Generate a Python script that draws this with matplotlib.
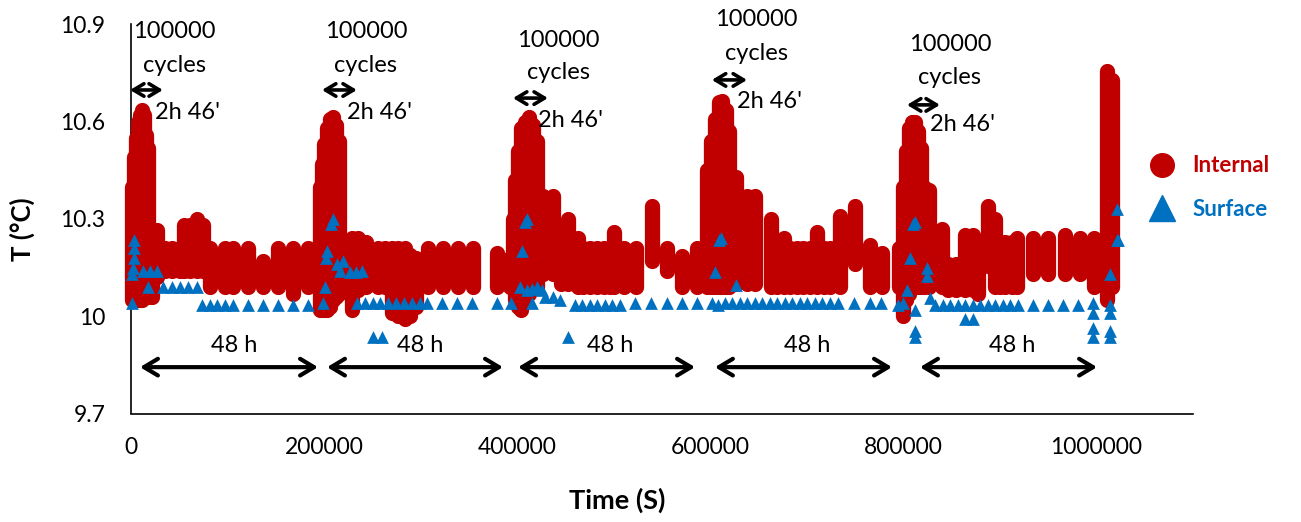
import matplotlib
matplotlib.use("Agg")
import matplotlib.pyplot as plt
from matplotlib.lines import Line2D

plt.rcParams['font.family'] = ['Lato', 'DejaVu Sans']

# ---------------- data ----------------
# Internal: each vertical band is a stack of readings at (nearly) the same time;
# stored as time (s), lowest and highest temperature (°C) of the stack.
internal_t = [
    1000, 3100, 5200, 7300, 9300, 11400, 13500, 15500, 17600,
    21800, 26900, 35200, 42500, 50800, 54900, 61100, 68400, 74600, 81900,
    97400, 105700, 121200, 136800, 152300, 167900, 183400,
    195900, 197900, 200000, 203100, 206200, 209300, 212400, 215600,
    229000, 235200, 243500, 256000, 263200, 270500, 276700, 283900, 289100, 295300,
    307800, 323300, 338900, 354400, 379300, 392800,
    395900, 397900, 401000, 404200, 408300, 412400, 416600, 420700,
    427000, 437300, 445600, 452900, 463200, 468400, 475700, 482900, 490200, 496400,
    500500, 510900, 523300, 539900, 555500, 571000, 586500,
    596900, 601100, 605200, 609300, 612500, 616600, 619700, 622800,
    627000, 638400, 646700, 663200, 669500, 676700, 682900, 690200, 696400, 703600,
    710900, 718200, 724400, 734700, 750300, 765800, 778300,
    795900, 800000, 803100, 806200, 809400, 812500, 815600, 818700, 821800,
    827000, 840400, 846700, 854900, 864300, 872600, 877700, 888100, 895400, 900500,
    905700, 913000, 918200, 934700, 950300, 967900, 983400, 998000,
    1011400, 1016600, 1027000,
]
internal_lo = [
    10.05, 10.05, 10.05, 10.05, 10.05, 10.05, 10.06, 10.06, 10.06,
    10.06, 10.12, 10.14, 10.14, 10.14, 10.14, 10.14, 10.14, 10.14, 10.09,
    10.09, 10.09, 10.09, 10.09, 10.09, 10.07, 10.09,
    10.02, 10.02, 10.02, 10.02, 10.03, 10.05, 10.06, 10.07,
    10.02, 10.08, 10.09, 10.09, 10.09, 10.01, 10.00, 9.99, 10.00, 10.03,
    10.09, 10.09, 10.09, 10.09, 10.09, 10.09,
    10.09, 10.05, 10.03, 10.02, 10.05, 10.07, 10.09, 10.09,
    10.13, 10.13, 10.10, 10.10, 10.09, 10.09, 10.09, 10.09, 10.09, 10.09,
    10.09, 10.09, 10.09, 10.17, 10.14, 10.09, 10.09,
    10.09, 10.09, 10.09, 10.09, 10.09, 10.09, 10.09, 10.10,
    10.10, 10.10, 10.10, 10.09, 10.09, 10.09, 10.09, 10.09, 10.09, 10.09,
    10.09, 10.09, 10.09, 10.09, 10.16, 10.09, 10.09,
    10.09, 10.00, 10.05, 10.07, 10.09, 10.09, 10.09, 10.09, 10.09,
    10.09, 10.09, 10.08, 10.08, 10.08, 10.08, 10.07, 10.155, 10.09, 10.09,
    10.09, 10.09, 10.09, 10.13, 10.13, 10.13, 10.13, 10.09,
    10.05, 10.09, 10.53,
]
internal_hi = [
    10.40, 10.49, 10.55, 10.60, 10.62, 10.635, 10.62, 10.56, 10.52,
    10.20, 10.265, 10.21, 10.21, 10.21, 10.28, 10.28, 10.30, 10.28, 10.21,
    10.21, 10.21, 10.21, 10.17, 10.21, 10.21, 10.21,
    10.40, 10.47, 10.53, 10.58, 10.61, 10.615, 10.59, 10.54,
    10.24, 10.24, 10.23, 10.21, 10.21, 10.21, 10.21, 10.21, 10.19, 10.18,
    10.21, 10.21, 10.21, 10.21, 10.195, 10.18,
    10.30, 10.42, 10.51, 10.58, 10.60, 10.615, 10.59, 10.54,
    10.37, 10.37, 10.25, 10.30, 10.24, 10.21, 10.21, 10.21, 10.21, 10.21,
    10.26, 10.21, 10.21, 10.34, 10.21, 10.185, 10.21,
    10.45, 10.54, 10.61, 10.66, 10.665, 10.635, 10.57, 10.43,
    10.43, 10.37, 10.37, 10.30, 10.21, 10.24, 10.21, 10.21, 10.21, 10.21,
    10.26, 10.21, 10.21, 10.31, 10.34, 10.22, 10.195,
    10.21, 10.40, 10.51, 10.58, 10.60, 10.60, 10.57, 10.52, 10.40,
    10.39, 10.27, 10.16, 10.16, 10.25, 10.25, 10.22, 10.34, 10.30, 10.23,
    10.23, 10.23, 10.24, 10.24, 10.24, 10.25, 10.24, 10.24,
    10.756, 10.73, 10.53,
]

# Surface: individual readings (time s, temperature °C)
surface_t = [
    1000, 1000, 2100, 2600, 3100, 3600, 12000, 17400, 19700, 26900,
    33200, 42500, 50800, 59100, 68400,
    73600, 81900, 89100, 97400, 105700, 121200, 136800, 152300, 167900, 183400,
    198900, 201100, 202200, 202800, 207700, 209300,
    213500, 219700, 216400, 226900, 233200, 239400,
    234100, 242500, 250800, 258100, 266300, 274600, 282900, 291200, 299500, 306700,
    250800, 260200,
    322200, 337800, 353400, 379300, 393700,
    403100, 405200, 408300, 410500, 415600, 410300, 415600, 420700, 425900,
    429000, 437200, 444600, 452900,
    460100, 467300, 475600, 482900, 491200, 498500, 506800,
    522300, 538900, 555400, 570900, 586600,
    601900, 608100, 605100, 609300, 611400, 626900,
    615600, 622900, 631200, 638400, 646700, 653900, 662200, 669400, 677700,
    684900, 693200, 700500, 708800, 716000, 724400,
    732600, 749200, 765800, 777200,
    794800, 800000, 804100, 807200, 810300, 812400, 812400, 812400, 812400,
    824900, 824900, 828000,
    833200, 841500, 848700, 857000, 864200, 872500, 879700, 888000, 895400,
    903700, 910900, 919100, 864200, 872500,
    934700, 950200, 965800, 981300,
    996900, 996900, 996900, 996900,
    1014500, 1014500, 1014500, 1014500, 1014500, 1021700, 1023100, 1021700,
]
surface_T = [
    10.04, 10.13, 10.15, 10.18, 10.21, 10.235, 10.14, 10.09, 10.14, 10.14,
    10.09, 10.09, 10.09, 10.09, 10.09,
    10.035, 10.035, 10.035, 10.035, 10.035, 10.035, 10.035, 10.035, 10.035, 10.035,
    10.04, 10.09, 10.18, 10.20, 10.285, 10.30,
    10.16, 10.17, 10.14, 10.135, 10.135, 10.14,
    10.04, 10.04, 10.04, 10.04, 10.04, 10.04, 10.04, 10.04, 10.04, 10.04,
    9.935, 9.935,
    10.04, 10.04, 10.04, 10.04, 10.04,
    10.09, 10.20, 10.29, 10.30, 10.04, 10.08, 10.085, 10.09, 10.08,
    10.06, 10.06, 10.05, 9.935,
    10.035, 10.035, 10.035, 10.035, 10.035, 10.035, 10.035,
    10.04, 10.04, 10.04, 10.04, 10.04,
    10.04, 10.035, 10.135, 10.235, 10.24, 10.095,
    10.04, 10.04, 10.04, 10.04, 10.04, 10.04, 10.04, 10.04, 10.04,
    10.04, 10.04, 10.04, 10.04, 10.04, 10.04,
    10.04, 10.04, 10.04, 10.04,
    10.035, 10.04, 10.08, 10.18, 10.285, 10.29, 10.02, 9.955, 9.935,
    10.15, 10.125, 10.055,
    10.035, 10.035, 10.035, 10.035, 10.035, 10.035, 10.035, 10.035, 10.035,
    10.035, 10.035, 10.035, 9.99, 9.99,
    10.035, 10.035, 10.035, 10.035,
    10.04, 10.01, 9.965, 9.935,
    10.035, 10.01, 9.955, 9.935, 10.13, 10.235, 10.235, 10.33,
]

series_names = ['Internal', 'Surface']
x_ticks = [0, 200000, 400000, 600000, 800000, 1000000]
x_tick_labels = ['0', '200000', '400000', '600000', '800000', '1000000']
y_ticks = [9.7, 10.0, 10.3, 10.6, 10.9]
y_tick_labels = ['9.7', '10', '10.3', '10.6', '10.9']
x_title = 'Time (S)'
y_title = 'T (°C)'
cycle_text = ['100000', 'cycles']
duration_text = "2h 46'"
rest_text = '48 h'

# ---------------- layout of the annotations (data coordinates) ----------------
# (text centre x, '100000' y, 'cycles' y, short arrow x1, x2, y, "2h 46'" left x, y,
#  '48 h' centre x, long arrow x1, x2)
annot = [
    (44600, 10.877, 10.775, -1000, 33100, 10.698, 24900, 10.630, 106700, 9300, 193800),
    (243500, 10.877, 10.775, 197900, 234100, 10.698, 223900, 10.630, 299500, 203100, 385500),
    (442500, 10.852, 10.753, 395800, 432100, 10.673, 421700, 10.605, 496400, 401100, 584500),
    (647700, 10.914, 10.812, 601900, 638400, 10.729, 628000, 10.661, 700500, 605100, 788600),
    (848700, 10.837, 10.735, 804100, 838300, 10.652, 828000, 10.590, 913000, 817600, 1001100),
]
rest_text_y = 9.911
rest_arrow_y = 9.843

RED = '#C00000'
BLUE = '#0070C0'

W, H = 1301, 522
fig = plt.figure(figsize=(W / 100, H / 100), dpi=100)
ax = fig.add_axes([131 / W, 1 - 413.5 / H, 1061.5 / W, 389 / H])

ax.vlines(internal_t, internal_lo, internal_hi, colors=RED, linewidth=11.0,
          capstyle='round', zorder=3, clip_on=False)
ax.scatter(surface_t, surface_T, marker='^', s=84, color=BLUE, linewidths=0,
           zorder=4, clip_on=False)

ax.set_xlim(0, 1100000)
ax.set_ylim(9.7, 10.9)
ax.set_xticks(x_ticks)
ax.set_xticklabels(x_tick_labels)
ax.set_yticks(y_ticks)
ax.set_yticklabels(y_tick_labels)
ax.tick_params(axis='x', length=0, pad=17, labelsize=16.5, colors='#000000')
ax.tick_params(axis='y', length=0, pad=18.5, labelsize=16.5, colors='#000000')
for s in ('top', 'right'):
    ax.spines[s].set_visible(False)
for s in ('left', 'bottom'):
    ax.spines[s].set_linewidth(1.2)
    ax.spines[s].set_color('#000000')

ax.set_xlabel(x_title, fontsize=19.5, fontweight='bold')
ax.xaxis.set_label_coords(0.458, -0.19)
ax.set_ylabel(y_title, fontsize=18.5, fontweight='bold')
ax.yaxis.set_label_coords(-0.090, 0.474)

for (cx, y1, y2, ax1, ax2, ay, dx, dy, hx, lx1, lx2) in annot:
    ax.text(cx, y1, cycle_text[0], ha='center', va='center', fontsize=17, zorder=6)
    ax.text(cx, y2, cycle_text[1], ha='center', va='center', fontsize=17, zorder=6)
    ax.annotate('', xy=(ax2, ay), xytext=(ax1, ay), annotation_clip=False,
                arrowprops=dict(arrowstyle='<->,head_length=0.75,head_width=0.45',
                                lw=2.6, color='black', shrinkA=0, shrinkB=0),
                zorder=6)
    ax.text(dx, dy, duration_text, ha='left', va='center', fontsize=17, zorder=6)
    ax.text(hx, rest_text_y, rest_text, ha='center', va='center', fontsize=17, zorder=6)
    ax.annotate('', xy=(lx2, rest_arrow_y), xytext=(lx1, rest_arrow_y),
                annotation_clip=False,
                arrowprops=dict(arrowstyle='<->,head_length=1.0,head_width=0.6',
                                lw=3.0, color='black', shrinkA=0, shrinkB=0),
                zorder=6)

handles = [
    Line2D([], [], marker='o', linestyle='', color=RED, markersize=17),
    Line2D([], [], marker='^', linestyle='', color=BLUE, markersize=19),
]
leg = ax.legend(handles, series_names, loc='center left',
                bbox_to_anchor=(1149 / W, 1 - 187.5 / H), bbox_transform=fig.transFigure,
                frameon=False, borderpad=0, borderaxespad=0, handlelength=1.2,
                handletextpad=0.75, labelspacing=1.0,
                prop={'size': 16, 'weight': 'bold'})
for txt, col in zip(leg.get_texts(), [RED, BLUE]):
    txt.set_color(col)

fig.savefig('out.png', dpi=100)
